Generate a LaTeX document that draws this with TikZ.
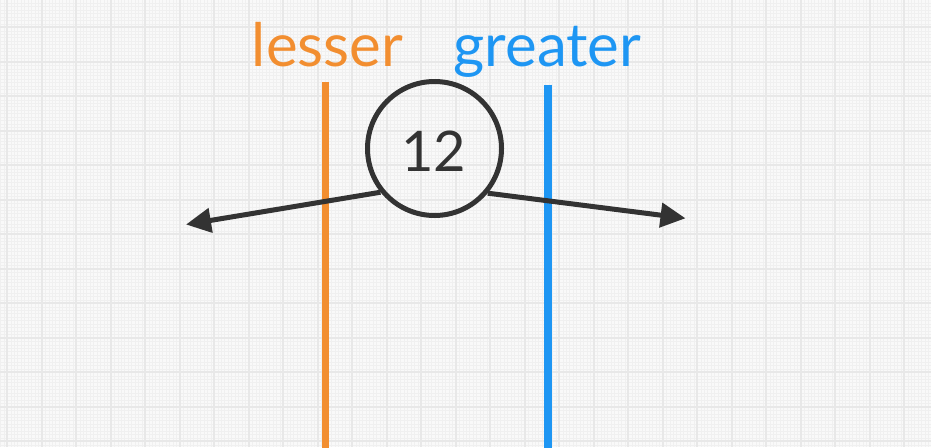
\documentclass[tikz,border=0pt]{standalone}
\usepackage{fontspec}
\setmainfont{Lato}
\usetikzlibrary{arrows.meta}
\definecolor{bgcol}{HTML}{F9F9F9}
\definecolor{minorcol}{HTML}{F0F0F0}
\definecolor{majorcol}{HTML}{E8E8E8}
\definecolor{darkcol}{HTML}{333333}
\definecolor{orangecol}{HTML}{F28E30}
\definecolor{bluecol}{HTML}{1E96F3}
\tikzset{
  minorline/.style={draw=minorcol, line width=0.4pt},
  majorline/.style={draw=majorcol, line width=1.8pt},
  valuecircle/.style={circle, draw=darkcol, line width=5pt, minimum size=134pt, inner sep=0pt},
  numtext/.style={text=darkcol, font=\fontsize{56}{60}\selectfont, inner sep=0pt},
  labeltext/.style={font=\fontsize{60}{66}\selectfont, inner sep=0pt, anchor=base},
  divider/.style={line width=7.5pt},
  pointer/.style={draw=darkcol, line width=5pt, -{Triangle[length=25pt,width=24pt]}}
}
\begin{document}
\begin{tikzpicture}[x=1pt,y=-1pt]
\useasboundingbox (0,0) rectangle (931,447);
\fill[bgcol] (0,0) rectangle (931,447);
% minor grid
\foreach \i in {-2,...,270} \draw[minorline] ({7.3+3.45*\i},0) -- ++(0,447);
\foreach \j in {-8,...,130} \draw[minorline] (0,{27.3+3.45*\j}) -- ++(931,0);
% major grid
\foreach \i in {0,...,27} \draw[majorline] ({7.3+34.5*\i},0) -- ++(0,447);
\foreach \j in {-1,...,12} \draw[majorline] (0,{27.3+34.5*\j}) -- ++(931,0);
% dividers
\coordinate (otop) at (325.5,82);
\coordinate (obot) at (325.5,448);
\coordinate (btop) at (548,84.5);
\coordinate (bbot) at (548,448);
\draw[divider, orangecol] (otop) -- (obot);
\draw[divider, bluecol] (btop) -- (bbot);
% labels
\node[labeltext, text=orangecol] (lesser) at (327.5,66.5) {lesser};
\node[labeltext, text=bluecol] (greater) at (547.5,66) {greater};
% circle
\node[valuecircle] (c) at (434.5,148.5) {};
\node[numtext] (num) at (433.5,151.7) {12};
% arrows
\coordinate (ltip) at (186,224.5);
\coordinate (rtip) at (685.5,218.3);
\draw[pointer] (c.219) -- (ltip);
\draw[pointer] (c.320.7) -- (rtip);
\end{tikzpicture}
\end{document}
